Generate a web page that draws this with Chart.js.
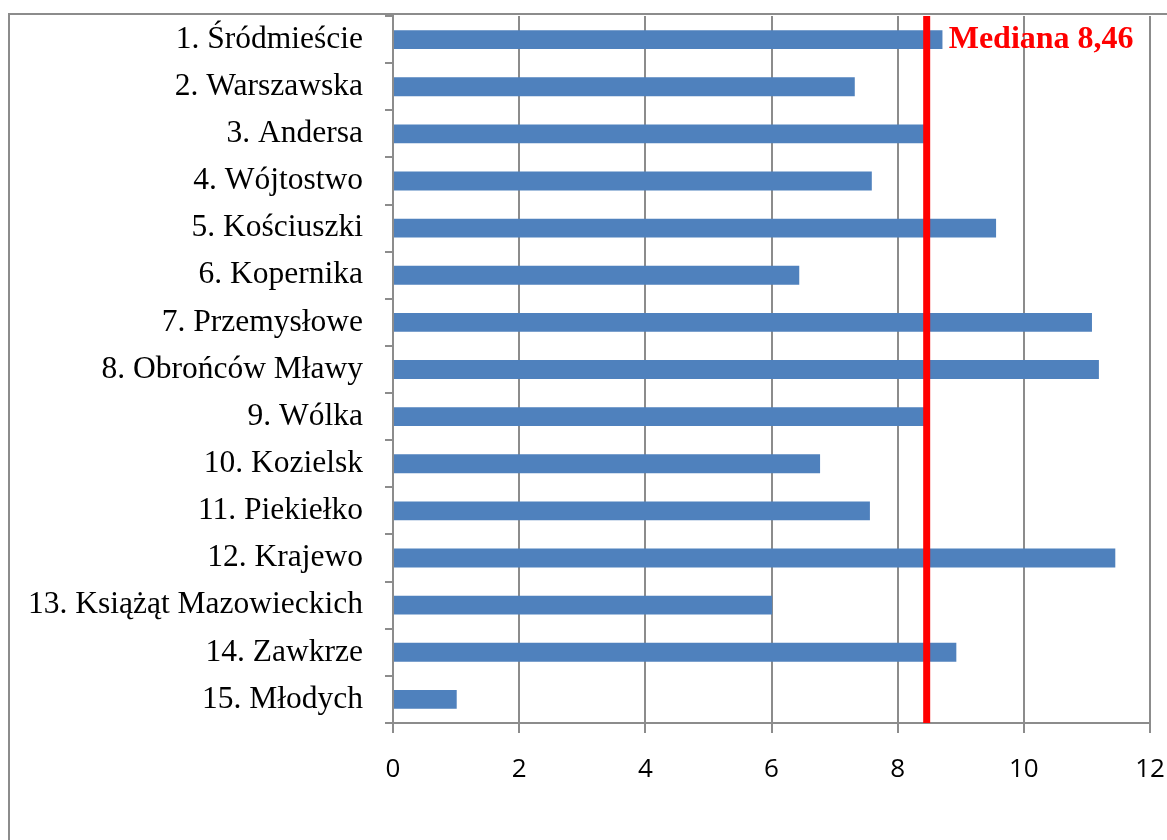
<!DOCTYPE html>
<html>
<head>
<meta charset="utf-8">
<script src="https://cdn.jsdelivr.net/npm/chart.js@4"></script>
<style>
  body { margin: 0; background: #fff; }
  #wrap { width: 1167px; height: 840px; }
</style>
</head>
<body>
<div id="wrap"><canvas id="chart" width="1167" height="840"></canvas></div>
<script>
// Osiedla i wartości słupków
const districts = [
  '1. Śródmieście', '2. Warszawska', '3. Andersa', '4. Wójtostwo', '5. Kościuszki',
  '6. Kopernika', '7. Przemysłowe', '8. Obrońców Mławy', '9. Wólka', '10. Kozielsk',
  '11. Piekiełko', '12. Krajewo', '13. Książąt Mazowieckich', '14. Zawkrze', '15. Młodych'
];
const values = [8.71, 7.32, 8.44, 7.59, 9.56, 6.44, 11.08, 11.19, 8.46, 6.77, 7.56, 11.45, 6.01, 8.93, 1.01];
const median = 8.46;
const xTicks = [0, 2, 4, 6, 8, 10, 12];

const gridGray = '#8c8c8c';

// Ramka wokół wykresu
const framePlugin = {
  id: 'frame',
  beforeDraw(chart) {
    const ctx = chart.ctx;
    ctx.save();
    ctx.strokeStyle = gridGray;
    ctx.lineWidth = 2;
    ctx.strokeRect(9, 14, 1300, 1000);
    ctx.restore();
  }
};

// Czerwona linia mediany z podpisem
const medianPlugin = {
  id: 'medianLine',
  afterDatasetsDraw(chart) {
    const { ctx, chartArea, scales } = chart;
    const x = scales.x.getPixelForValue(median);
    ctx.save();
    ctx.strokeStyle = '#ff0000';
    ctx.lineWidth = 7;
    ctx.beginPath();
    ctx.moveTo(x, chartArea.top);
    ctx.lineTo(x, chartArea.bottom);
    ctx.stroke();
    ctx.fillStyle = '#ff0000';
    ctx.font = 'bold 32px "Liberation Serif"';
    ctx.textBaseline = 'middle';
    ctx.textAlign = 'left';
    const y = scales.y.getPixelForValue(0);
    ctx.fillText('Mediana ' + median.toFixed(2).replace('.', ','), x + 22, y);
    ctx.restore();
  }
};

// bez dodatkowych marginesów od etykiet skrajnych
function noPad(scale) {
  scale.paddingLeft = 0;
  scale.paddingRight = 0;
  scale.paddingTop = 0;
  scale.paddingBottom = 0;
}

new Chart(document.getElementById('chart'), {
  type: 'bar',
  data: {
    labels: districts,
    datasets: [{
      data: values,
      backgroundColor: '#4f81bd',
      borderWidth: 0,
      barPercentage: 0.4,
      categoryPercentage: 1
    }]
  },
  options: {
    indexAxis: 'y',
    responsive: false,
    animation: false,
    layout: { padding: { left: 0, top: 16, right: 17, bottom: 0 } },
    plugins: {
      legend: { display: false },
      tooltip: { enabled: false }
    },
    scales: {
      x: {
        min: 0,
        max: 12,
        afterBuildTicks(scale) {
          scale.ticks = xTicks.map(v => ({ value: v }));
        },
        afterFit(scale) { scale.height = 117; noPad(scale); },
        grid: {
          color: gridGray,
          lineWidth: 2,
          drawTicks: true,
          tickLength: 10,
          tickColor: gridGray
        },
        border: { color: gridGray, width: 2 },
        ticks: {
          color: '#000',
          padding: 21,
          font: { family: '"Open Sans"', size: 26 }
        }
      },
      y: {
        afterFit(scale) { scale.width = 393; noPad(scale); },
        grid: {
          offset: true,
          drawOnChartArea: false,
          drawTicks: true,
          tickLength: 8,
          tickColor: gridGray,
          lineWidth: 2
        },
        border: { color: gridGray, width: 2 },
        ticks: {
          color: '#000',
          padding: 22,
          autoSkip: false,
          font: { family: '"Liberation Serif"', size: 31.5 }
        }
      }
    }
  },
  plugins: [framePlugin, medianPlugin]
});
</script>
</body>
</html>
